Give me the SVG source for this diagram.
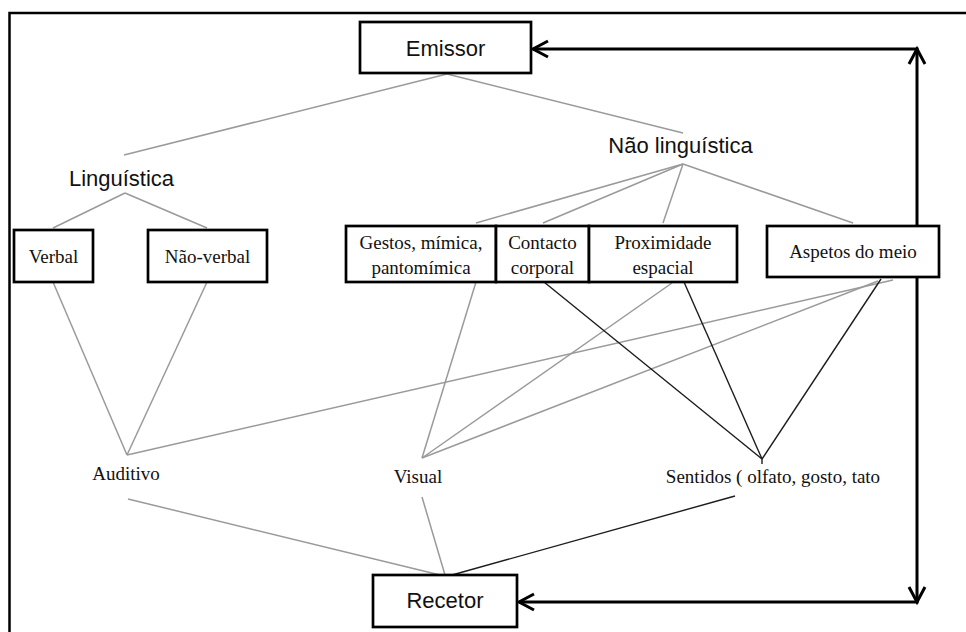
<svg xmlns="http://www.w3.org/2000/svg" width="966" height="632" viewBox="0 0 966 632">
  <style>
    .box { fill: #ffffff; stroke: #000000; stroke-width: 2.7; }
    .sans { font-family: "Liberation Sans", Arial, sans-serif; font-size: 22px; fill: #111111; text-anchor: middle; }
    .serif { font-family: "Liberation Serif", "Times New Roman", serif; font-size: 19px; fill: #111111; text-anchor: middle; }
    .grey { stroke: #9a9a9a; stroke-width: 1.5; fill: none; }
    .dark { stroke: #1c1c1c; stroke-width: 1.4; fill: none; }
    .flow { stroke: #000000; stroke-width: 3; fill: none; }
    .frame { stroke: #000000; stroke-width: 2.5; fill: none; }
  </style>
  <defs>
    <marker id="chevron" markerUnits="userSpaceOnUse" viewBox="-20 -12 24 24" markerWidth="24" markerHeight="24" refX="0" refY="0" orient="auto-start-reverse">
      <path d="M-15,-8 L0,0 L-15,8" fill="none" stroke="#000000" stroke-width="3"/>
    </marker>
  </defs>

  <rect width="966" height="632" fill="#ffffff"/>

  <!-- outer frame (top and left edges) -->
  <path class="frame" d="M9.5,632 L9.5,13 L966,13"/>

  <!-- connectors -->
  <g id="connectors">
    <!-- Emissor to the two branches -->
    <line class="grey" x1="447" y1="74" x2="124" y2="155"/>
    <line class="grey" x1="447" y1="74" x2="683" y2="133"/>
    <!-- Linguística to its boxes -->
    <line class="grey" x1="125" y1="193" x2="53" y2="228"/>
    <line class="grey" x1="125" y1="193" x2="207" y2="228"/>
    <!-- Não linguística to its boxes -->
    <line class="grey" x1="683" y1="164" x2="476" y2="223"/>
    <line class="grey" x1="683" y1="164" x2="543" y2="223"/>
    <line class="grey" x1="683" y1="164" x2="663" y2="223"/>
    <line class="grey" x1="683" y1="164" x2="853" y2="223"/>
    <!-- channels: Auditivo -->
    <line class="grey" x1="53" y1="282" x2="127" y2="455"/>
    <line class="grey" x1="207" y1="282" x2="127" y2="455"/>
    <line class="grey" x1="127" y1="455" x2="893" y2="280"/>
    <!-- channels: Visual -->
    <line class="grey" x1="476" y1="282" x2="422" y2="458"/>
    <line class="grey" x1="672" y1="283" x2="422" y2="458"/>
    <line class="grey" x1="878" y1="281" x2="422" y2="458"/>
    <!-- channels: Sentidos -->
    <line class="dark" x1="544" y1="282" x2="762" y2="459"/>
    <line class="dark" x1="684" y1="282" x2="762" y2="459"/>
    <line class="dark" x1="881" y1="279" x2="762" y2="459"/>
    <line class="dark" x1="762" y1="459" x2="762" y2="464"/>
    <!-- channels to Recetor -->
    <line class="grey" x1="128" y1="499" x2="440" y2="575"/>
    <line class="grey" x1="422" y1="497" x2="445" y2="575"/>
    <line class="dark" x1="735" y1="496" x2="452" y2="575"/>
    <!-- feedback loop -->
    <line class="flow" x1="917" y1="49" x2="917" y2="602" marker-start="url(#chevron)" marker-end="url(#chevron)"/>
    <line class="flow" x1="918.5" y1="49" x2="533" y2="49" marker-end="url(#chevron)"/>
    <line class="flow" x1="918.5" y1="602" x2="519" y2="602" marker-end="url(#chevron)"/>
  </g>

  <g id="emissor">
    <rect class="box" x="360" y="22" width="171" height="51"/>
    <text class="sans" x="445.5" y="56">Emissor</text>
  </g>

  <g id="linguistica">
    <text class="sans" x="121.5" y="186">Linguística</text>
  </g>

  <g id="nao-linguistica">
    <text class="sans" x="680.5" y="153">Não linguística</text>
  </g>

  <g id="verbal">
    <rect class="box" x="14" y="230" width="79" height="52"/>
    <text class="serif" x="53.5" y="263">Verbal</text>
  </g>

  <g id="nao-verbal">
    <rect class="box" x="148" y="230" width="119" height="52"/>
    <text class="serif" x="207.5" y="263">Não-verbal</text>
  </g>

  <g id="gestos">
    <rect class="box" x="346" y="226" width="150" height="56"/>
    <text class="serif" x="421" y="249">Gestos, mímica,</text>
    <text class="serif" x="421" y="274">pantomímica</text>
  </g>

  <g id="contacto">
    <rect class="box" x="496" y="226" width="93" height="56"/>
    <text class="serif" x="542.5" y="249">Contacto</text>
    <text class="serif" x="542.5" y="274">corporal</text>
  </g>

  <g id="proximidade">
    <rect class="box" x="589" y="226" width="148" height="56"/>
    <text class="serif" x="663" y="249">Proximidade</text>
    <text class="serif" x="663" y="274">espacial</text>
  </g>

  <g id="aspetos">
    <rect class="box" x="767" y="226" width="172" height="51"/>
    <text class="serif" x="853" y="258">Aspetos do meio</text>
  </g>

  <g id="auditivo">
    <text class="serif" x="126" y="480">Auditivo</text>
  </g>

  <g id="visual">
    <text class="serif" x="418" y="483">Visual</text>
  </g>

  <g id="sentidos">
    <text class="serif" x="773" y="483">Sentidos ( olfato, gosto, tato</text>
  </g>

  <g id="recetor">
    <rect class="box" x="373" y="575" width="144" height="52"/>
    <text class="sans" x="445" y="608">Recetor</text>
  </g>
</svg>
